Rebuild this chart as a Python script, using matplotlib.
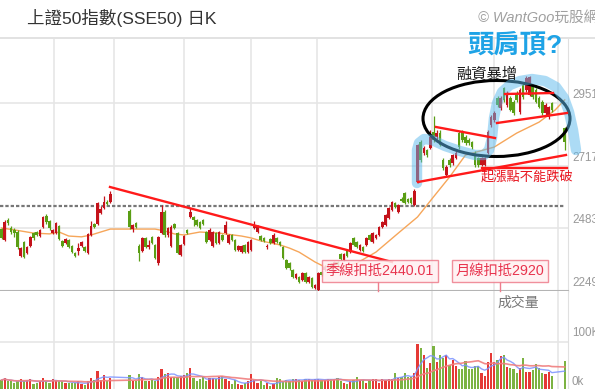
import numpy as np
import pandas as pd
import matplotlib
matplotlib.use("Agg")
import matplotlib.pyplot as plt
from matplotlib.patches import Ellipse
from matplotlib.lines import Line2D
from matplotlib.transforms import Affine2D

plt.rcParams['font.family'] = ['Liberation Sans', 'Noto Sans CJK TC']

# --- SSE50 daily candles (None = market holiday slot) ---
opens = [2480, 2439, 2514, 2484, 2477, 2469, 2380, 2432, 2391, 2417,
         2465, 2469, 2454, 2488, 2528, 2510, 2465, 2465, 2491, 2436,
         2428, 2439, 2417, 2391, 2398, 2417, 2413, 2391, 2458, 2499,
         2499, 2540, 2559, 2581, 2581,
         None, None, None, None, None,
         2547, 2480, 2503, 2417, 2398, 2447, 2413, 2451, 2421, 2353,
         2465, 2544, 2458, 2417, 2499, 2465, 2383, 2424, 2477, 2525,
         2525, 2514, 2506, 2514, 2469, 2439, 2417, 2465, 2428, 2458,
         2465, 2428, 2458, 2439, 2402, 2394, 2421, 2394, 2402, 2484,
         2469, 2454, 2447, 2413, 2443, 2428, 2447, 2432, 2413, 2365,
         2353, 2327, 2297, 2301, 2290, 2316, 2283, 2297, 2260, 2253,
         2320, 2327, 2335, 2350, 2346, 2357, 2387, 2365, 2402, 2394,
         2447, 2432, 2402, 2413, 2421, 2458, 2432, 2447, 2458, 2488,
         2495, 2521, 2551, 2577, 2544, 2592, 2614, 2592, 2596, 2570,
         2656, 2805, 2764, 2775, 2782, 2842, 2823, 2838, 2738, 2682,
         2738, 2726, 2745, 2838, 2842, 2823, 2812, 2805, 2764, 2745,
         2719, 2719, 2764, 2868, 2887, 2969, 2932, 3006, 2943, 2969,
         2954, 2988, 2917, 3017, 2999, 2980, 3017, 2999, 2969, 2954,
         2913, 2898, 2950,
         None, None, None,
         2857]
highs = [2484, 2514, 2520, 2490, 2484, 2475, 2413, 2436, 2417, 2455,
         2470, 2473, 2480, 2530, 2535, 2514, 2480, 2508, 2495, 2440,
         2447, 2443, 2421, 2394, 2428, 2436, 2417, 2465, 2510, 2503,
         2581, 2565, 2605, 2590, 2622,
         None, None, None, None, None,
         2555, 2499, 2506, 2425, 2450, 2451, 2440, 2455, 2425, 2455,
         2570, 2551, 2488, 2495, 2503, 2470, 2424, 2458, 2480, 2560,
         2530, 2518, 2510, 2518, 2473, 2484, 2473, 2469, 2473, 2462,
         2510, 2462, 2462, 2443, 2420, 2421, 2424, 2436, 2443, 2510,
         2495, 2458, 2450, 2425, 2447, 2465, 2451, 2436, 2417, 2368,
         2357, 2331, 2316, 2305, 2320, 2320, 2305, 2301, 2275, 2320,
         2325, 2345, 2355, 2353, 2362, 2362, 2391, 2391, 2406, 2432,
         2451, 2436, 2425, 2417, 2451, 2462, 2469, 2462, 2491, 2510,
         2536, 2562, 2585, 2581, 2575, 2600, 2618, 2596, 2600, 2630,
         2797, 2812, 2790, 2780, 2850, 2900, 2850, 2850, 2745, 2720,
         2745, 2760, 2770, 2845, 2850, 2830, 2818, 2810, 2770, 2750,
         2750, 2750, 2850, 2905, 2920, 2975, 2975, 3010, 2995, 2975,
         2960, 2995, 3005, 3025, 3050, 3052, 3022, 3005, 2975, 2960,
         2950, 2940, 2955,
         None, None, None,
         2861]
lows = [2443, 2436, 2495, 2462, 2450, 2405, 2376, 2372, 2387, 2413,
        2440, 2455, 2450, 2485, 2500, 2478, 2460, 2462, 2440, 2413,
        2425, 2410, 2390, 2376, 2383, 2413, 2395, 2387, 2455, 2484,
        2495, 2536, 2555, 2570, 2577,
        None, None, None, None, None,
        2480, 2470, 2484, 2360, 2394, 2409, 2405, 2424, 2368, 2345,
        2462, 2450, 2450, 2413, 2480, 2387, 2380, 2420, 2462, 2520,
        2490, 2491, 2480, 2495, 2428, 2436, 2413, 2424, 2424, 2436,
        2462, 2424, 2436, 2398, 2398, 2390, 2390, 2390, 2398, 2480,
        2465, 2436, 2432, 2405, 2424, 2424, 2428, 2417, 2368, 2331,
        2327, 2297, 2293, 2279, 2286, 2279, 2279, 2260, 2256, 2250,
        2305, 2323, 2331, 2330, 2342, 2342, 2365, 2361, 2376, 2390,
        2417, 2409, 2398, 2394, 2417, 2436, 2428, 2443, 2454, 2484,
        2491, 2518, 2547, 2558, 2540, 2580, 2573, 2578, 2573, 2566,
        2650, 2730, 2756, 2750, 2778, 2805, 2815, 2790, 2700, 2675,
        2712, 2720, 2740, 2780, 2805, 2795, 2795, 2780, 2712, 2712,
        2715, 2715, 2760, 2860, 2880, 2935, 2925, 2955, 2935, 2920,
        2905, 2955, 2910, 2965, 2990, 2975, 2965, 2950, 2930, 2905,
        2905, 2890, 2915,
        None, None, None,
        2775]
closes = [2447, 2506, 2503, 2469, 2465, 2413, 2409, 2376, 2413, 2451,
          2447, 2458, 2477, 2525, 2506, 2484, 2477, 2503, 2443, 2417,
          2443, 2413, 2394, 2380, 2410, 2432, 2398, 2462, 2491, 2488,
          2577, 2555, 2581, 2574, 2611,
          None, None, None, None, None,
          2488, 2495, 2488, 2391, 2447, 2413, 2419, 2428, 2372, 2451,
          2544, 2458, 2484, 2488, 2484, 2391, 2421, 2454, 2465, 2544,
          2514, 2495, 2484, 2499, 2432, 2477, 2469, 2428, 2469, 2439,
          2495, 2458, 2439, 2402, 2417, 2417, 2394, 2432, 2439, 2495,
          2488, 2439, 2436, 2417, 2428, 2458, 2432, 2421, 2372, 2335,
          2335, 2301, 2312, 2283, 2316, 2283, 2301, 2264, 2271, 2316,
          2309, 2339, 2350, 2335, 2357, 2346, 2368, 2387, 2380, 2428,
          2421, 2413, 2421, 2398, 2447, 2439, 2465, 2458, 2488, 2506,
          2532, 2559, 2581, 2562, 2570, 2585, 2577, 2581, 2577, 2622,
          2794, 2738, 2782, 2756, 2823, 2812, 2838, 2794, 2708, 2712,
          2719, 2756, 2764, 2786, 2812, 2801, 2801, 2786, 2719, 2719,
          2745, 2745, 2842, 2898, 2913, 2943, 2969, 2962, 2988, 2924,
          2913, 2962, 2999, 2973, 3044, 3048, 2973, 2954, 2935, 2913,
          2943, 2935, 2924,
          None, None, None,
          2805]
# volume in thousands of lots
volumes = [19, 23, 16, 17, 13, 16, 21, 16, 19, 21, 11, 13, 16, 23, 18, 13, 21, 16,
           18, 16, 13, 13, 13, 12, 16, 11, 9, 17, 24, 19, 38, 19, 30, 18, 23,
           None, None, None, None, None,
           30, 18, 16, 32, 25, 16, 16, 19, 18, 26, 43, 31, 33, 26, 25, 25, 28, 30,
           33, 44, 24, 18, 21, 25, 18, 23, 23, 21, 26, 28, 21, 18, 11, 19, 10, 9,
           13, 16, 32, 19, 12, 18, 9, 12, 6, 11, 23, 21, 16, 19, 16, 21, 21,
           20, 18, 22, 21, 19, 21, 21, 19, 19, 21, 21, 21, 23, 18, 12, 11, 16, 19,
           25, 19, 19, 13, 19, 21, 21, 13, 21, 19, 21, 21, 35, 23, 25, 33, 26, 25, 33,
           96, 87, 72, 44, 55, 91, 58, 72, 67, 72, 51, 62, 49, 42, 42, 60, 42, 42,
           48, 49, 33, 28, 58, 77, 58, 62, 70, 72, 46, 44, 42, 33, 44, 67, 37, 37,
           40, 53, 44, 33, 32, 37, 28,
           None, None, None,
           60]
# 20-day moving average (月線), read at selected bars
ma20_slots = [0, 4, 10, 15, 18, 21, 25, 28, 31, 34, 40, 48, 51, 54, 57, 62, 68, 75,
              78, 81, 87, 90, 93, 98, 101, 104, 107, 111, 117, 124, 130, 135, 140,
              145, 154, 156, 161, 168, 173, 176]
ma20_vals = [2484, 2477, 2465, 2462, 2469, 2454, 2451, 2458, 2469, 2480, 2480, 2480,
             2473, 2462, 2458, 2469, 2465, 2454, 2447, 2436, 2421, 2409, 2394, 2357,
             2339, 2335, 2339, 2353, 2394, 2465, 2525, 2600, 2674, 2756, 2786, 2801,
             2838, 2879, 2924, 2962]
month_lines = [16.4, 35.2, 57.0, 78.0, 98.6, 134.5, 153.9, 173.9]
ref_level = 2567
price_ticks = [2951, 2717, 2483, 2249]
vol_ticks = [100, 0]
vol_labels = ['100K', '0k']

UP, DOWN = '#c4121a', '#5a9e14'
VUP, VDOWN = '#e53935', '#7cb342'

W, H = 595, 389
fig = plt.figure(figsize=(W / 100, H / 100), dpi=100)
fig.patch.set_facecolor('white')
px = Affine2D().scale(1 / W, -1 / H).translate(0, 1) + fig.transFigure

ax = fig.add_axes([0, 1 - 291 / H, 568 / W, 252 / H])
axv = fig.add_axes([0, 0, 568 / W, 98 / H])

o = np.array(opens, dtype=float)
h = np.array(highs, dtype=float)
l = np.array(lows, dtype=float)
c = np.array(closes, dtype=float)
v = np.array(volumes, dtype=float)
x = np.arange(len(o))
ok = ~np.isnan(o)
cols = np.where(c >= o, UP, DOWN)[ok]
vcols = np.where(c >= o, VUP, VDOWN)[ok]

for a in (ax, axv):
    a.set_xlim(-0.47, 177.03)
    a.set_xticks([])
    a.set_yticks([])
    for s in a.spines.values():
        s.set_visible(False)
    a.spines['right'].set_visible(True)
    a.spines['right'].set_color('#e0e0e0')
    for m in month_lines:
        a.axvline(m, color='#e6e6e6', lw=1.2, zorder=0)
ax.set_ylim(2249, 3189)
axv.set_ylim(0, 208.5)
ax.spines['bottom'].set_visible(True)
ax.spines['bottom'].set_color('#b4b4b4')
ax.spines['bottom'].set_linewidth(1.5)
for t in price_ticks[:-1]:
    ax.axhline(t, color='#e6e6e6', lw=1.2, zorder=0)
axv.axhline(100, color='#e6e6e6', lw=1.2, zorder=0)

# reference level + monthly MA
ax.plot([-0.47, 176.2], [ref_level, ref_level], color='#777777', lw=1.6,
        ls=(0, (1.5, 0.9)), zorder=1)
ax.plot(ma20_slots, ma20_vals, color='#f6a65a', lw=1.0, zorder=2)

# candles
ax.vlines(x[ok], l[ok], h[ok], colors=cols, lw=0.9, zorder=3)
ax.bar(x[ok], np.maximum(np.abs(c - o)[ok], 4), bottom=np.minimum(o, c)[ok],
       width=0.82, color=cols, zorder=3)

# volume + volume MAs
axv.bar(x[ok], v[ok], width=0.72, color=vcols, zorder=2)
vs = pd.Series(v[ok])
axv.plot(x[ok], vs.rolling(5, min_periods=1).mean(), color='#7b93ff', lw=1.0, alpha=0.85, zorder=3)
axv.plot(x[ok], vs.rolling(20, min_periods=1).mean(), color='#f07f7f', lw=1.2, alpha=0.9, zorder=3)

# right-hand labels
for t in price_ticks:
    ax.annotate(str(t), xy=(1, t), xycoords=ax.get_yaxis_transform(), xytext=(4, 8),
                textcoords='offset pixels', va='center', ha='left', fontsize=8.4,
                color='#999999', annotation_clip=False)
for t, lab in zip(vol_ticks, vol_labels):
    axv.annotate(lab, xy=(1, t), xycoords=axv.get_yaxis_transform(),
                 xytext=(4, 9 if t else 7), textcoords='offset pixels', va='center',
                 ha='left', fontsize=8.4, color='#999999', annotation_clip=False)

# header
fig.add_artist(Line2D([0, W], [38.5, 38.5], transform=px, color='#dddddd', lw=1.2))
fig.text(27 / W, 1 - 18 / H, '上證50指數(SSE50) 日K', fontsize=12.6, color='#333333', va='center')
fig.text(478 / W, 1 - 18 / H, '© WantGoo玩股網', fontsize=10.5, color='#a0a0a0',
         style='italic', va='center')

# hand-drawn analysis overlays
band_x = [417, 417, 419, 424, 432, 445, 460, 475, 484, 489, 492, 494, 497, 502, 510,
          520, 532, 545, 556, 564, 569, 573, 576]
band_y = [183, 150, 143, 139, 140, 146, 151, 155, 155, 150, 138, 118, 103, 92, 85,
          81, 79, 81, 87, 98, 112, 130, 150]
fig.add_artist(Line2D(band_x, band_y, transform=px, color='#5ab8ec', alpha=0.5, lw=7.5,
                      solid_capstyle='round', solid_joinstyle='round'))
fig.add_artist(Ellipse((496.5, 118.5), 147, 76, transform=px, fill=False, ec='black', lw=2.2))
red_lines = [((110, 392), (187, 262)), ((418, 566), (182, 155)), ((482, 567), (168, 168)),
             ((436, 495), (127, 138)), ((497, 567), (123, 113)), ((505, 553), (94, 93))]
for lx, ly in red_lines:
    fig.add_artist(Line2D(lx, ly, transform=px, color='#ff1a1a', lw=1.7))

fig.text(515 / W, 1 - 46 / H, '頭肩頂?', fontsize=19, fontweight='bold', color='#1ea3e6',
         ha='center', va='center')
fig.text(487 / W, 1 - 75 / H, '融資暴增', fontsize=11, color='#1a1a1a', ha='center', va='center')
fig.text(527 / W, 1 - 177 / H, '起漲點不能跌破', fontsize=9.5, color='#e8141e',
         ha='center', va='center')
fig.text(518 / W, 1 - 303 / H, '成交量', fontsize=10, color='#777777', ha='center', va='center')

box = dict(boxstyle='square,pad=0.25', fc='#fff0f2', ec='#ee7d8c', lw=1, alpha=0.85)
fig.text(380 / W, 1 - 271 / H, '季線扣抵2440.01', fontsize=10.3, color='#e8344e',
         ha='center', va='center', bbox=box)
fig.text(500 / W, 1 - 271 / H, '月線扣抵2920', fontsize=10.3, color='#e8344e',
         ha='center', va='center', bbox=box)
for tx in (378, 500):
    fig.add_artist(Line2D([tx, tx], [282, 291], transform=px, color='#ee7d8c', lw=1))

fig.savefig('out.png', dpi=100, facecolor='white')
